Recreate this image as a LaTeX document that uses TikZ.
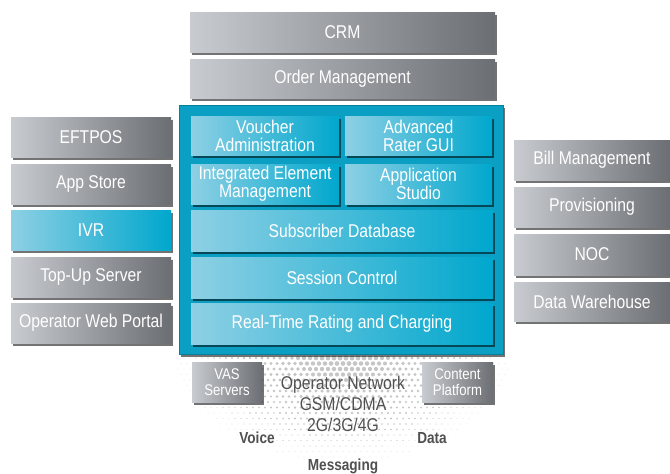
\documentclass[tikz,border=0pt]{standalone}
\usepackage{fontspec}
\setmainfont[FakeStretch=0.85]{Liberation Sans}
\usetikzlibrary{shadows}

\definecolor{graylight}{HTML}{C8CCD0}
\definecolor{graydark}{HTML}{6B6E72}
\definecolor{teallight}{HTML}{8ED0E4}
\definecolor{tealdark}{HTML}{00A7CD}
\definecolor{panelblue}{HTML}{0A9FC3}
\definecolor{panelline}{HTML}{07809E}
\definecolor{nettext}{HTML}{505050}
\definecolor{dotgray}{HTML}{C6C6C6}

\begin{document}
\begin{tikzpicture}[x=1pt,y=-1pt,
  every node/.style={font=\fontsize{18.5}{18}\selectfont,text=white,align=center,inner sep=0pt},
  box shadow/.style={drop shadow={shadow xshift=2pt,shadow yshift=-2.5pt,opacity=0.55,fill=black}},
  gray box/.style={shade,left color=graylight,right color=graydark,minimum height=40pt,box shadow},
  teal box/.style={shade,left color=teallight,right color=tealdark,minimum height=40pt,box shadow},
  small box/.style={gray box,font=\fontsize{15.5}{16.5}\selectfont},
  net label/.style={text=nettext,font=\fontsize{16}{16}\bfseries\selectfont}]

  \useasboundingbox (0,0) rectangle (670,474);

  % halftone network area
  \foreach \i in {0,...,63}{
    \foreach \j in {0,...,20}{
      \pgfmathsetmacro{\dx}{154+6*\i+3*mod(\j,2)}
      \pgfmathsetmacro{\dy}{358+5.5*\j}
      \pgfmathsetmacro{\dd}{sqrt(((\dx-343)/186)^2+((\dy-345)/128)^2)}
      \pgfmathsetmacro{\dr}{max(0,2.8*(1-\dd))}
      \ifdim\dr pt>0.25pt \fill[dotgray] (\dx,\dy) circle[radius=\dr]; \fi
    }
  }

  % top
  \node[gray box,minimum width=305pt] at (342.5,32.5) (crm) {CRM};
  \node[gray box,minimum width=305pt,minimum height=39pt] at (342.5,78.5) (order) {Order Management};

  % core panel
  \node[fill=panelblue,draw=panelline,line width=1pt,minimum width=324pt,minimum height=249pt,box shadow] at (341,229.5) (panel) {};
  \node[teal box,minimum width=148pt,minimum height=39pt] at (265,135.5) (voucher) {Voucher\\Administration};
  \node[teal box,minimum width=147pt,minimum height=39pt] at (418.5,135.5) (rater) {Advanced\\Rater GUI};
  \node[teal box,minimum width=148pt] at (265,184) (iem) {Integrated Element\\Management};
  \node[teal box,minimum width=147pt] at (418.5,184) (studio) {Application\\Studio};
  \node[teal box,minimum width=302pt,minimum height=41pt] at (342,230.5) (subdb) {Subscriber Database};
  \node[teal box,minimum width=302pt,minimum height=41pt] at (342,277.5) (session) {Session Control};
  \node[teal box,minimum width=302pt,minimum height=41pt] at (342,323.5) (rating) {Real-Time Rating and Charging};

  % left
  \node[gray box,minimum width=160pt] at (91,137) (eftpos) {EFTPOS};
  \node[gray box,minimum width=160pt] at (91,184) (appstore) {App Store};
  \node[teal box,minimum width=160pt] at (91,230) (ivr) {IVR};
  \node[gray box,minimum width=160pt] at (91,277) (topup) {Top-Up Server};
  \node[gray box,minimum width=160pt] at (91,323) (portal) {Operator Web Portal};

  % right
  \node[gray box,minimum width=156pt] at (592,160) (bill) {Bill Management};
  \node[gray box,minimum width=156pt] at (592,207) (prov) {Provisioning};
  \node[gray box,minimum width=156pt,minimum height=41pt] at (592,254.5) (noc) {NOC};
  \node[gray box,minimum width=156pt,minimum height=39pt] at (592,301.5) (dw) {Data Warehouse};

  % network
  \node[small box,minimum width=70pt] at (227,382) (vas) {VAS\\Servers};
  \node[small box,minimum width=71pt] at (457.5,382) (content) {Content\\Platform};
  \node[text=nettext,font=\fontsize{18.5}{21}\selectfont] at (343,404) (net) {Operator Network\\GSM/CDMA\\2G/3G/4G};
  \node[net label] at (257,438) (voice) {Voice};
  \node[net label] at (432,438) (data) {Data};
  \node[net label] at (343,466) (msg) {Messaging};
\end{tikzpicture}
\end{document}
